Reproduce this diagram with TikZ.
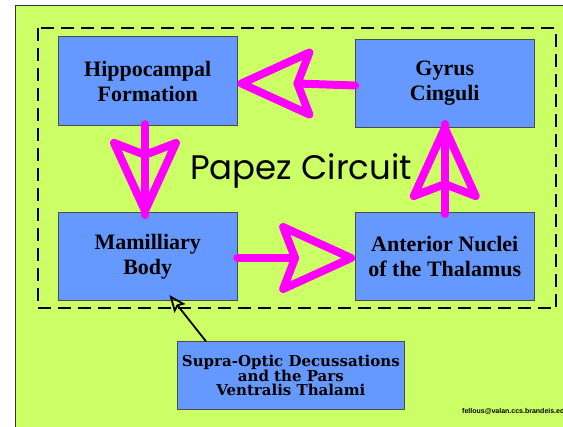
\documentclass[tikz,border=0pt]{standalone}
\usepackage{fontspec}
\setmainfont{Liberation Serif}
\newfontfamily\papfont{Poppins}
\newfontfamily\supfont{DejaVu Serif}
\newfontfamily\footfont{Liberation Sans}
\usetikzlibrary{arrows.meta}
\definecolor{bggreen}{HTML}{CCFF66}
\definecolor{boxblue}{HTML}{6699FF}
\definecolor{mag}{HTML}{FF00FF}
\begin{document}
\begin{tikzpicture}[x=1pt,y=-1pt,
  box/.style={draw=black!70, line width=0.8pt, fill=boxblue, minimum width=178.5pt,
    inner sep=0pt, align=center, font=\fontsize{22}{25}\selectfont\bfseries},
  magline/.style={mag, line width=8pt, line cap=round},
  maghead/.pic={\draw[mag, line width=8pt, line join=round, line cap=round]
      (-4pt,0pt) -- (-72pt,31pt) -- (-60pt,0pt) -- (-72pt,-31pt) -- cycle;},
  blackarrow/.style={black, line width=1.8pt, -{Stealth[open, length=17pt, width=14pt, inset=3pt]}},
  dashbox/.style={draw=black, line width=1.8pt, dash pattern=on 13pt off 7pt},
]
\useasboundingbox (0,0) rectangle (563,427);
\fill[white] (0,0) rectangle (563,427);
\fill[bggreen] (15,6) rectangle (563,427);
\draw[black!80, line width=1pt] (15,427) -- (15,6) -- (563,6);
\draw[dashbox] (37.7,28.3) rectangle (556,308.3);

\node[box, minimum height=89pt] (hip) at (147.75,81.2) {Hippocampal\\Formation};
\node[box, minimum height=88.4pt] (gyr) at (444.75,83.5) {Gyrus\\Cinguli};
\node[box, minimum height=88.4pt] (mam) at (147.75,256.5) {Mamilliary\\Body};
\node[box, minimum height=88.4pt] (ant) at (444.75,256.5) {Anterior Nuclei\\of the Thalamus};
\node[box, minimum width=227pt, minimum height=67.6pt,
  font=\supfont\bfseries\fontsize{15}{14.7}\selectfont] (sup) at (290.85,375.5)
  {Supra-Optic Decussations\\and the Pars\\Ventralis Thalami};

\node[anchor=base west, inner sep=0pt, font=\papfont\fontsize{34}{36}\selectfont] (pap) at (190,180) {Papez Circuit};

% circuit arrows
\draw[magline] ([xshift=-2.75pt,yshift=2pt]hip.south) -- ([xshift=-2.75pt,yshift=-3pt]mam.north);
\pic[rotate=-90] at ([xshift=-2.75pt,yshift=-3pt]mam.north) {maghead};
\draw[magline] ([yshift=-2pt]ant.north) -- ([yshift=4pt]gyr.south);
\pic[rotate=90] at ([yshift=4pt]gyr.south) {maghead};
\draw[magline] ([yshift=-2pt]gyr.west) -- ([xshift=60pt]gyr.west -| hip.east);
\pic[rotate=180] at (gyr.west -| hip.east) {maghead};
\draw[magline] ([yshift=-1.5pt]mam.east) -- ([xshift=-60pt,yshift=-1.5pt]mam.east -| ant.west);
\pic at ([yshift=-1.5pt]mam.east -| ant.west) {maghead};

\draw[blackarrow] ([xshift=29pt]sup.north west) -- ([xshift=-68pt,yshift=6pt]mam.south east);

\begin{scope}
\clip (0,0) rectangle (563,427);
\node[anchor=base west, inner sep=0pt, font=\footfont\bfseries\fontsize{7}{8}\selectfont] (foot) at (462,414) {fellous@valan.ccs.brandeis.edu};
\end{scope}
\end{tikzpicture}
\end{document}
